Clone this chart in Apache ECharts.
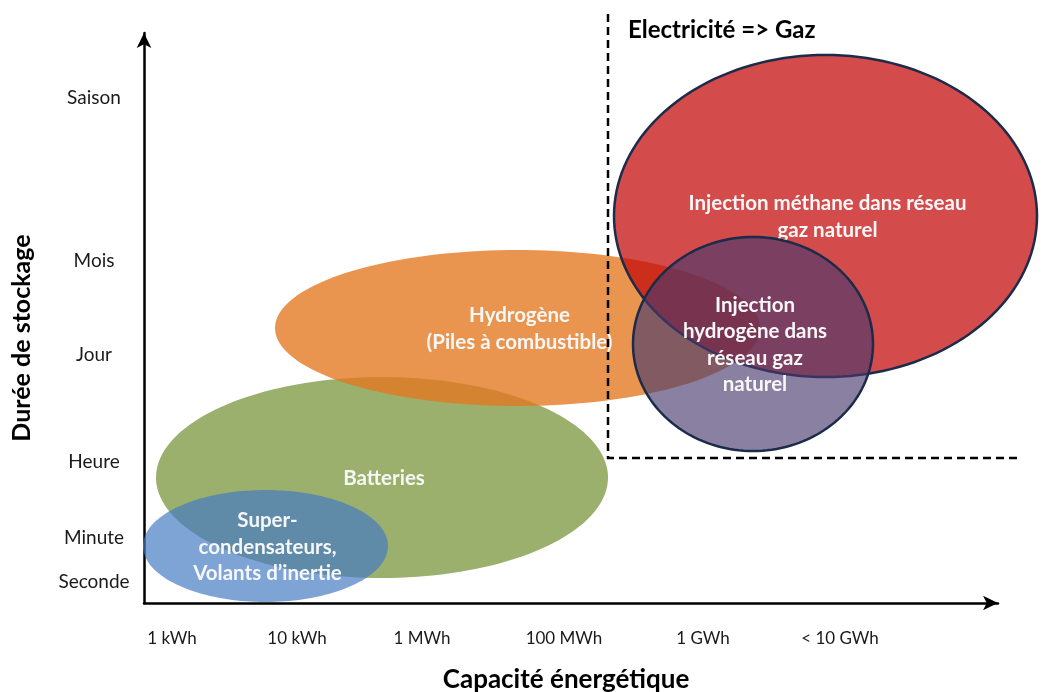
<!DOCTYPE html>
<html>
<head>
<meta charset="utf-8">
<script src="https://cdn.jsdelivr.net/npm/echarts@6/dist/echarts.min.js"></script>
<style>
  html, body { margin: 0; padding: 0; background: #ffffff; }
  #chart { width: 1046px; height: 692px; }
</style>
</head>
<body>
<div id="chart"></div>
<script>
// Capacity scale (x) and storage-duration scale (y): ordinal positions along each axis
const capacityLabels = ['1 kWh', '10 kWh', '1 MWh', '100 MWh', '1 GWh', '< 10 GWh'];
const capacityPositions = [0.28, 1.53, 2.78, 4.20, 5.59, 6.96];
const durationLabels = ['Seconde', 'Minute', 'Heure', 'Jour', 'Mois', 'Saison'];
const durationPositions = [0.21, 0.65, 1.41, 2.48, 3.42, 5.05];

// Storage technologies, listed in drawing order (back to front)
const techNames = [
  'Batteries',
  'Hydrogène\n(Piles à combustible)',
  'Injection méthane dans réseau\ngaz naturel',
  'Injection\nhydrogène dans\nréseau gaz\nnaturel',
  'Super-\ncondensateurs,\nVolants d’inertie'
];
// Range covered by each technology on both scales
const capacityMin = [0.12, 1.31, 4.70, 4.89, -0.01];
const capacityMax = [4.64, 6.16, 8.93, 7.29, 2.44];
const durationMin = [0.25, 1.97, 2.26, 1.52, 0.01];
const durationMax = [2.26, 3.53, 5.48, 3.66, 1.13];

// Boundary of the "Electricité => Gaz" zone
const gasZoneCapacity = [4.64, 4.64, 8.76];
const gasZoneDuration = [5.89, 1.45, 1.45];

const techStyles = [
  { fill: 'rgba(155,176,109,1)' },
  { fill: 'rgba(227,121,32,0.79)' },
  { fill: 'rgba(195,8,8,0.73)', stroke: '#1c2b4a', lineWidth: 2.5 },
  { fill: 'rgba(72,57,110,0.64)', stroke: '#1c2b4a', lineWidth: 2.5 },
  { fill: 'rgba(68,122,194,0.69)' }
];

const techData = techNames.map((n, i) => [capacityMin[i], capacityMax[i], durationMin[i], durationMax[i]]);
const gasZoneData = gasZoneCapacity.map((x, i) => [x, gasZoneDuration[i]]);

const chart = echarts.init(document.getElementById('chart'), null, { renderer: 'canvas' });

const labelFont = 'Lato, "Open Sans", sans-serif';

chart.setOption({
  animation: false,
  backgroundColor: '#ffffff',
  title: {
    text: 'Electricité => Gaz',
    left: 623,
    top: 13,
    textStyle: { fontFamily: labelFont, fontWeight: 'bold', fontSize: 24, color: '#000000' }
  },
  grid: { left: 144, right: 48, top: 33, bottom: 89, containLabel: false, outerBoundsMode: 'none' },
  xAxis: {
    type: 'value',
    min: 0,
    max: 8.54,
    name: 'Capacité énergétique',
    nameLocation: 'middle',
    nameGap: 64,
    nameTextStyle: { fontFamily: labelFont, fontWeight: 'bold', fontSize: 26, color: '#000000', padding: [0, 10, 0, 0] },
    axisLine: { show: true, symbol: ['none', 'arrow'], symbolSize: [11, 15], lineStyle: { color: '#000000', width: 2.5 } },
    axisTick: { show: false },
    splitLine: { show: false },
    axisLabel: {
      customValues: capacityPositions,
      formatter: v => capacityLabels[capacityPositions.indexOf(v)] ?? '',
      margin: 27,
      fontFamily: labelFont,
      fontSize: 17,
      color: '#1a1a1a'
    }
  },
  yAxis: {
    type: 'value',
    min: 0,
    max: 5.7,
    name: 'Durée de stockage',
    nameLocation: 'middle',
    nameGap: 110,
    nameRotate: 90,
    nameTextStyle: { fontFamily: labelFont, fontWeight: 'bold', fontSize: 25, color: '#000000', padding: [0, 40, 0, 0] },
    axisLine: { show: true, symbol: ['none', 'arrow'], symbolSize: [11, 15], lineStyle: { color: '#000000', width: 2.5 } },
    axisTick: { show: false },
    splitLine: { show: false },
    axisLabel: {
      customValues: durationPositions,
      formatter: v => durationLabels[durationPositions.indexOf(v)] ?? '',
      margin: 50,
      align: 'center',
      fontFamily: labelFont,
      fontSize: 19,
      color: '#1a1a1a'
    }
  },
  series: [
    {
      type: 'custom',
      clip: false,
      data: techData,
      z: 2,
      renderItem(params, api) {
        const x0 = api.value(0), x1 = api.value(1), y0 = api.value(2), y1 = api.value(3);
        const cx = (x0 + x1) / 2, cy = (y0 + y1) / 2;
        const rx = (x1 - x0) / 2, ry = (y1 - y0) / 2;
        const pts = [];
        const steps = 160;
        for (let k = 0; k < steps; k++) {
          const t = (k / steps) * Math.PI * 2;
          pts.push(api.coord([cx + rx * Math.cos(t), cy + ry * Math.sin(t)]));
        }
        const c = api.coord([cx, cy]);
        const st = techStyles[params.dataIndex];
        return {
          type: 'group',
          children: [
            {
              type: 'polygon',
              shape: { points: pts },
              style: { fill: st.fill, stroke: st.stroke || null, lineWidth: st.lineWidth || 0 }
            },
            {
              type: 'text',
              x: c[0] + 2,
              y: c[1] + 1,
              style: {
                text: techNames[params.dataIndex],
                fill: '#f7f7f7',
                font: 'bold 20.5px ' + labelFont,
                align: 'center',
                verticalAlign: 'middle',
                lineHeight: 26.5
              }
            }
          ]
        };
      }
    },
    {
      // Dashed boundary of the gas zone, drawn as one polyline through all its points
      type: 'custom',
      clip: false,
      z: 5,
      data: [0],
      renderItem(params, api) {
        const pts = gasZoneData.map(p => api.coord(p));
        return {
          type: 'polyline',
          shape: { points: pts },
          style: { stroke: '#000000', lineWidth: 2.5, lineDash: [8, 5], fill: null }
        };
      }
    }
  ]
});
</script>
</body>
</html>
